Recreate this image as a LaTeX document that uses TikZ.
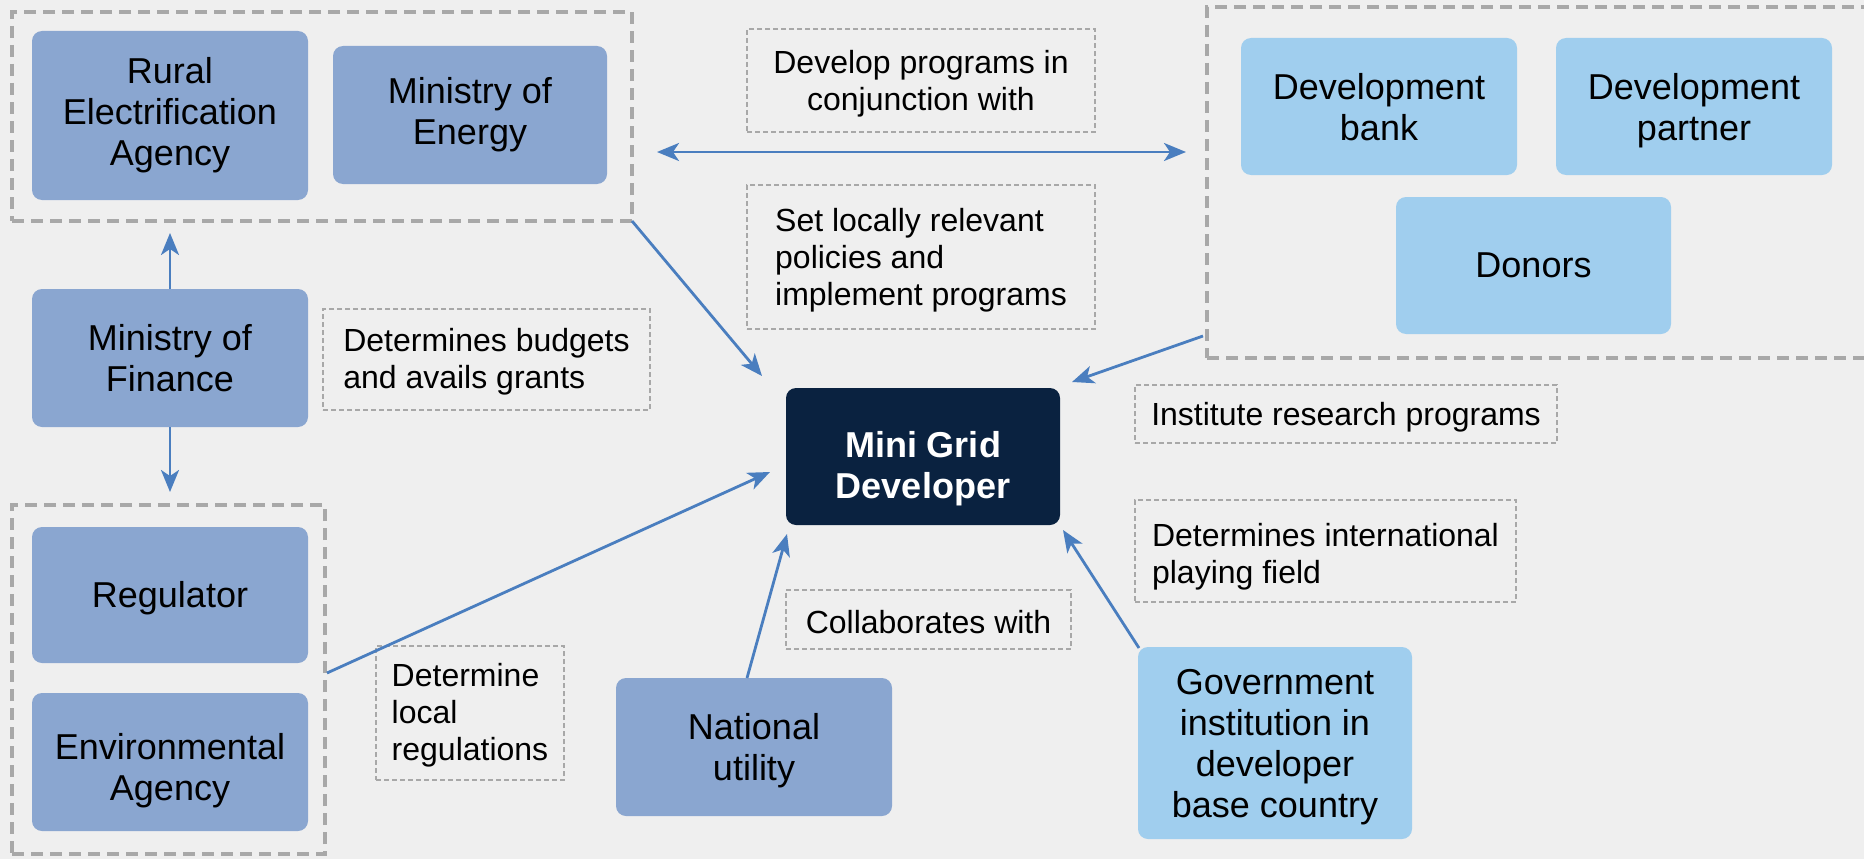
\documentclass[tikz,border=0pt]{standalone}
\usepackage{fontspec}
\setmainfont{Liberation Sans}
\usetikzlibrary{arrows.meta,calc}
\definecolor{bg}{HTML}{EFEFEF}
\definecolor{midblue}{HTML}{8AA6D0}
\definecolor{lightblue}{HTML}{A0CEEE}
\definecolor{navy}{HTML}{0A2240}
\definecolor{arrowblue}{HTML}{4A7EBF}
\definecolor{dashgray}{HTML}{A8A8A8}
% move a node's text down by #1 (first line has cap/ascender height ~26pt at 36pt)
\newcommand\boxdown[1]{\rule{0pt}{\dimexpr 26pt+#1*2\relax}}
% same for 32pt label text (first line height ~23.3pt)
\newcommand\lbldown[1]{\rule{0pt}{\dimexpr 23.3pt+#1*2\relax}}
\begin{document}
\begin{tikzpicture}[x=1pt,y=-1pt,
 >={Stealth[length=22pt,width=18pt,inset=6pt]},
 box/.style={rounded corners=10pt, inner sep=0pt, outer sep=0pt, align=center, font=\fontsize{36}{41}\selectfont, text=black},
 mid/.style={box, fill=midblue},
 light/.style={box, fill=lightblue},
 dev/.style={box, fill=navy, text=white, font=\fontsize{36}{41}\selectfont\bfseries},
 grp/.style={draw=dashgray, line width=3.5pt, dash pattern=on 12pt off 7pt, inner sep=0pt, outer sep=0pt},
 lbl/.style={draw=dashgray, line width=2.2pt, dash pattern=on 5pt off 3pt, inner sep=0pt, outer sep=0pt, font=\fontsize{32}{37}\selectfont},
 arr/.style={draw=arrowblue, line width=2.8pt},
]
\useasboundingbox (0,0) rectangle (1864,859);
\clip (0,0) rectangle (1864,859);
\fill[bg] (0,0) rectangle (1864,859);

% boxes
\node[mid, minimum width=276, minimum height=169] (rea) at (170,115.5) {Rural\\Electrification\\Agency};
\node[mid, minimum width=274, minimum height=138] (moe) at (470,115) {Ministry of\\Energy};
\node[mid, minimum width=276, minimum height=138] (mof) at (170,358) {Ministry of\\Finance};
\node[mid, minimum width=276, minimum height=136] (reg) at (170,595) {\boxdown{3.5pt}Regulator};
\node[mid, minimum width=276, minimum height=138] (env) at (170,762) {\boxdown{9pt}Environmental\\Agency};
\node[mid, minimum width=276, minimum height=138] (nu) at (754,747) {\boxdown{4pt}National\\utility};
\node[dev, minimum width=274, minimum height=137] (mgd) at (923,456.5) {\boxdown{12pt}Mini Grid\\Developer};
\node[light, minimum width=276, minimum height=137] (db) at (1379,106.5) {\boxdown{1pt}Development\\bank};
\node[light, minimum width=276, minimum height=137] (dp) at (1694,106.5) {\boxdown{4.5pt}Development\\partner};
\node[light, minimum width=275, minimum height=137] (don) at (1533.5,265.5) {Donors};
\node[light, minimum width=274, minimum height=192] (gov) at (1275,743) {\boxdown{4pt}Government\\institution in\\developer\\base country};

% groups
\node[grp, minimum width=620, minimum height=209] (gTL) at (322,116.5) {};
\node[grp, minimum width=313, minimum height=349] (gBL) at (168.5,679.5) {};
\node[grp, minimum width=680, minimum height=351] (gR) at (1547,182.5) {};

% labels
\node[lbl, minimum width=348, minimum height=103, align=center] (lDev) at (921,80.5) {\lbldown{3.5pt}Develop programs in\\conjunction with};
\node[lbl, minimum width=348, minimum height=144, align=left] (lSet) at (921,257) {\lbldown{3.5pt}Set locally relevant\\policies and\\implement programs};
\node[lbl, minimum width=327, minimum height=101, align=left] (lBud) at (486.5,359.5) {\lbldown{2.5pt}Determines budgets\\and avails grants};
\node[lbl, minimum width=188, minimum height=134, align=left] (lReg) at (470,713) {\lbldown{2pt}Determine\\local\\regulations};
\node[lbl, minimum width=285, minimum height=59] (lCol) at (928.5,619.5) {\lbldown{2.5pt}Collaborates with};
\node[lbl, minimum width=422, minimum height=58] (lIns) at (1346,414) {\lbldown{3.5pt}Institute research programs};
\node[lbl, minimum width=381, minimum height=102, align=left] (lInt) at (1325.5,551) {\lbldown{5.5pt}Determines international\\playing field};

% connectors
\draw[arr,<->] ([shift={(25,35.5)}]gTL.east) -- ([shift={(-21,-30.5)}]gR.west);
\draw[arr,->] (gTL.south east) -- ([shift={(-24,-12)}]mgd.north west);
\draw[arr,->] ([shift={(-4,153.5)}]gR.west) -- ([shift={(12,-6)}]mgd.north east);
\draw[arr,->] ([shift={(2,-6.5)}]gBL.east) -- ([shift={(-16,15.5)}]mgd.west);
\draw[arr,->] ([shift={(-7,0)}]nu.north) -- ([shift={(1,9)}]mgd.south west);
\draw[arr,->] ([shift={(1,1)}]gov.north west) -- ([shift={(3,5)}]mgd.south east);
\draw[arr,->,shorten >=12pt] (mof.north) -- (mof.north |- gTL.south);
\draw[arr,->,shorten >=13pt] (mof.south) -- (mof.south |- gBL.north);
\end{tikzpicture}
\end{document}
